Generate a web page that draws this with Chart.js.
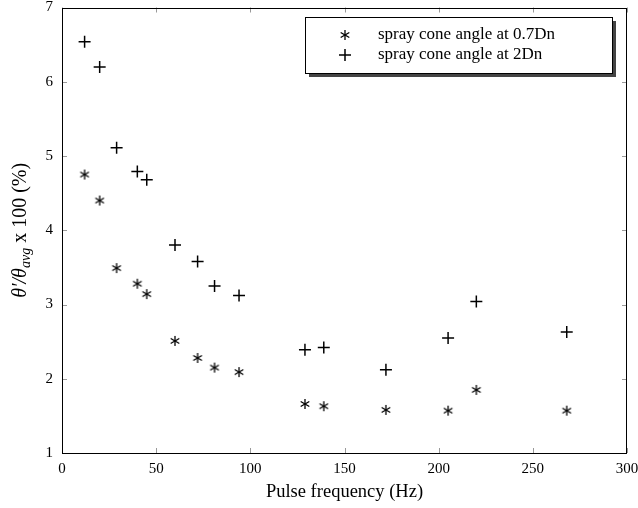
<!DOCTYPE html>
<html>
<head>
<meta charset="utf-8">
<script src="https://cdn.jsdelivr.net/npm/chart.js@4/dist/chart.umd.min.js"></script>
<style>
  html, body { margin: 0; padding: 0; background: #fff; }
  #wrap { width: 638px; height: 508px; }
</style>
</head>
<body>
<div id="wrap"><canvas id="chart"></canvas></div>
<script>
// pulse frequency (Hz), same for both series
const freq = [12, 20, 29, 40, 45, 60, 72, 81, 94, 129, 139, 172, 205, 220, 268];
const angle07 = [4.75, 4.40, 3.49, 3.28, 3.14, 2.51, 2.28, 2.15, 2.09, 1.66, 1.63, 1.58, 1.57, 1.85, 1.57];
const angle2 = [6.54, 6.20, 5.11, 4.79, 4.68, 3.80, 3.58, 3.25, 3.12, 2.39, 2.42, 2.12, 2.55, 3.04, 2.63];
const seriesNames = ['spray cone angle at 0.7Dn', 'spray cone angle at 2Dn'];
const xTicks = [0, 50, 100, 150, 200, 250, 300];
const yTicks = [1, 2, 3, 4, 5, 6, 7];

const serif = "'Liberation Serif', 'DejaVu Serif', serif";

// six-armed asterisk like the pgfplots one
function makeStar(r) {
    const c = document.createElement('canvas');
    const s = Math.ceil(r * 2 + 4);
    c.width = s; c.height = s;
    const g = c.getContext('2d');
    g.strokeStyle = '#000';
    g.lineWidth = 1.3;
    g.translate(s / 2, s / 2);
    for (let k = 0; k < 3; k++) {
        const a = Math.PI / 2 + k * Math.PI / 3;
        g.beginPath();
        g.moveTo(-r * Math.cos(a), -r * Math.sin(a));
        g.lineTo(r * Math.cos(a), r * Math.sin(a));
        g.stroke();
    }
    return c;
}
const starImg = makeStar(5);

const toPoints = ys => ys.map((y, i) => ({ x: freq[i], y: y }));

// frame, inward ticks, y title and legend box
const decor = {
    id: 'decor',
    afterDraw(chart) {
        const { ctx, chartArea: a, scales } = chart;
        ctx.save();
        // ticks
        ctx.strokeStyle = '#999';
        ctx.lineWidth = 1;
        ctx.beginPath();
        xTicks.forEach(v => {
            const px = Math.round(scales.x.getPixelForValue(v)) + 0.5;
            ctx.moveTo(px, a.bottom); ctx.lineTo(px, a.bottom - 5);
            ctx.moveTo(px, a.top); ctx.lineTo(px, a.top + 5);
        });
        yTicks.forEach(v => {
            const py = Math.round(scales.y.getPixelForValue(v)) + 0.5;
            ctx.moveTo(a.left, py); ctx.lineTo(a.left + 5, py);
            ctx.moveTo(a.right, py); ctx.lineTo(a.right - 5, py);
        });
        ctx.stroke();
        // frame
        ctx.strokeStyle = '#000';
        ctx.lineWidth = 1;
        ctx.strokeRect(Math.round(a.left) + 0.5, Math.round(a.top) + 0.5,
            Math.round(a.right - a.left) - 1, Math.round(a.bottom - a.top) - 1);

        // y axis title with subscript
        ctx.fillStyle = '#000';
        ctx.translate(20, (a.top + a.bottom) / 2);
        ctx.rotate(-Math.PI / 2);
        ctx.textBaseline = 'alphabetic';
        const main = "italic 20px " + serif;
        const sub = "italic 14px " + serif;
        const up = "20px " + serif;
        const parts = [
            [main, 'θ′/θ', 0],
            [sub, 'avg', 4],
            [up, ' x 100 (%)', 0]
        ];
        let w = 0;
        parts.forEach(p => { ctx.font = p[0]; w += ctx.measureText(p[1]).width; });
        let x = -w / 2;
        parts.forEach(p => {
            ctx.font = p[0];
            ctx.fillText(p[1], x, 6 + p[2]);
            x += ctx.measureText(p[1]).width;
        });
        ctx.setTransform(1, 0, 0, 1, 0, 0);

        // legend
        const lx = 305, ly = 17, lw = 307, lh = 56;
        ctx.fillStyle = '#444';
        ctx.fillRect(lx + 4, ly + 4, lw, lh);
        ctx.fillStyle = '#fff';
        ctx.fillRect(lx, ly, lw, lh);
        ctx.strokeStyle = '#000';
        ctx.strokeRect(lx + 0.5, ly + 0.5, lw, lh);
        ctx.drawImage(starImg, 345 - starImg.width / 2, 35 - starImg.height / 2);
        ctx.lineWidth = 1.5;
        ctx.beginPath();
        ctx.moveTo(339, 55); ctx.lineTo(351, 55);
        ctx.moveTo(345, 49); ctx.lineTo(345, 61);
        ctx.stroke();
        ctx.fillStyle = '#000';
        ctx.font = "17px " + serif;
        ctx.textBaseline = 'middle';
        ctx.fillText(seriesNames[0], 378, 35);
        ctx.fillText(seriesNames[1], 378, 55);
        ctx.restore();
    }
};

new Chart(document.getElementById('chart').getContext('2d'), {
    type: 'scatter',
    data: {
        datasets: [{
            label: seriesNames[0],
            data: toPoints(angle07),
            pointStyle: starImg,
            pointRadius: 5
        }, {
            label: seriesNames[1],
            data: toPoints(angle2),
            pointStyle: 'cross',
            pointRadius: 6,
            borderColor: '#000',
            borderWidth: 1.5
        }]
    },
    options: {
        responsive: true,
        maintainAspectRatio: false,
        animation: false,
        layout: { padding: { top: 7, right: 11, left: 0, bottom: 0 } },
        plugins: { legend: { display: false }, tooltip: { enabled: false } },
        scales: {
            x: {
                min: 0, max: 300,
                afterFit: s => { s.height = 55; s.paddingRight = 0; s.paddingLeft = 0; },
                afterBuildTicks: s => { s.ticks = xTicks.map(v => ({ value: v })); },
                grid: { display: false, drawTicks: false },
                border: { display: false },
                ticks: { color: '#000', padding: 7, font: { family: serif, size: 15 } },
                title: {
                    display: true, text: 'Pulse frequency (Hz)', color: '#000',
                    font: { family: serif, size: 18.5 }, padding: { top: 4, bottom: 5 }
                }
            },
            y: {
                min: 1, max: 7,
                afterFit: s => { s.width = 62; s.paddingTop = 0; s.paddingBottom = 0; },
                afterBuildTicks: s => { s.ticks = yTicks.map(v => ({ value: v })); },
                grid: { display: false, drawTicks: false },
                border: { display: false },
                ticks: { color: '#000', padding: 9, font: { family: serif, size: 15 } }
            }
        }
    },
    plugins: [decor]
});
</script>
</body>
</html>
